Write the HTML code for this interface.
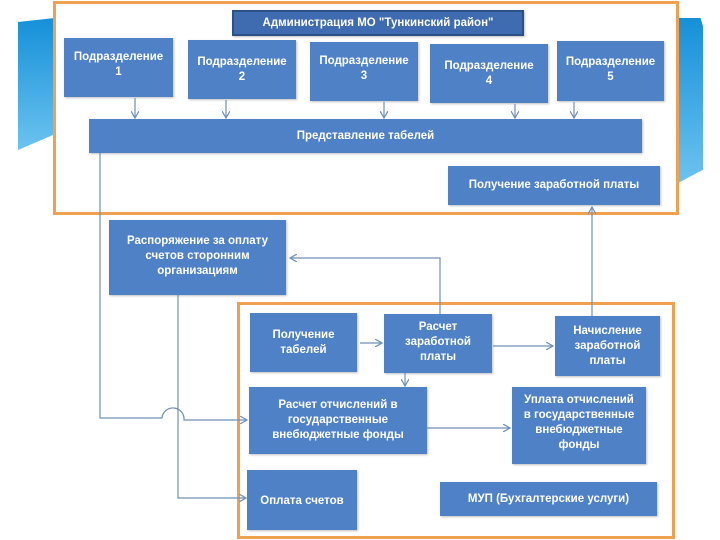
<!DOCTYPE html>
<html><head><meta charset="utf-8"><style>
body{margin:0;width:720px;height:540px;background:#fff;position:relative;overflow:hidden;font-family:"Liberation Sans","DejaVu Sans",sans-serif}
.b{position:absolute;background:#4f81c7;color:#fff;font-weight:bold;font-size:11.5px;display:flex;align-items:center;justify-content:center;text-align:center;line-height:15px;box-shadow:1px 1px 2px rgba(0,0,0,.25)}
.f{position:absolute;border:3px solid #f0a050;box-sizing:border-box}
svg{position:absolute;left:0;top:0}
</style></head><body>
<div style="position:absolute;left:18px;top:18px;width:37px;height:132px;background:linear-gradient(#1590d8,#6cc3ef);clip-path:polygon(0 3%,100% 0,100% 88%,0 100%)"></div>
<div style="position:absolute;left:678px;top:18px;width:25px;height:165px;background:linear-gradient(#1590d8,#6cc3ef);clip-path:polygon(0 0,90% 0,100% 5%,100% 92%,0 100%)"></div>
<div class="f" style="left:53px;top:1px;width:626px;height:214px;background:#fff"></div>
<div class="f" style="left:237px;top:302px;width:438px;height:237px"></div>
<div class="b" style="left:232px;top:10px;width:292px;height:26px;background:#3f6bb0;border:2px solid #2c4f86;box-sizing:border-box">Администрация МО "Тункинский район"</div>
<div class="b" style="left:64px;top:38px;width:109px;height:59px;align-items:flex-start;padding-top:12px;box-sizing:border-box">Подразделение<br>1</div>
<div class="b" style="left:188px;top:40px;width:108px;height:59px">Подразделение<br>2</div>
<div class="b" style="left:310px;top:42px;width:108px;height:59px;align-items:flex-start;padding-top:12px;box-sizing:border-box">Подразделение<br>3</div>
<div class="b" style="left:430px;top:44px;width:118px;height:59px">Подразделение<br>4</div>
<div class="b" style="left:557px;top:41px;width:107px;height:60px;align-items:flex-start;padding-top:14px;box-sizing:border-box">Подразделение<br>5</div>
<div class="b" style="left:89px;top:119px;width:553px;height:34px">Представление табелей</div>
<div class="b" style="left:448px;top:166px;width:212px;height:39px">Получение заработной платы</div>
<div class="b" style="left:109px;top:220px;width:177px;height:75px;align-items:flex-start;padding-top:14px;box-sizing:border-box">Распоряжение за оплату<br>счетов сторонним<br>организациям</div>
<div class="b" style="left:250px;top:313px;width:107px;height:59px">Получение<br>табелей</div>
<div class="b" style="left:384px;top:314px;width:108px;height:59px;align-items:flex-start;padding-top:6px;box-sizing:border-box">Расчет<br>заработной<br>платы</div>
<div class="b" style="left:555px;top:316px;width:105px;height:60px">Начисление<br>заработной<br>платы</div>
<div class="b" style="left:249px;top:387px;width:178px;height:67px">Расчет отчислений в<br>государственные<br>внебюджетные фонды</div>
<div class="b" style="left:512px;top:387px;width:134px;height:77px;align-items:flex-start;padding-top:6px;box-sizing:border-box">Уплата отчислений<br>в государственные<br>внебюджетные<br>фонды</div>
<div class="b" style="left:247px;top:470px;width:110px;height:60px;align-items:flex-start;padding-top:24px;box-sizing:border-box">Оплата счетов</div>
<div class="b" style="left:440px;top:482px;width:217px;height:34px">МУП (Бухгалтерские услуги)</div>
<svg width="720" height="540" fill="none" stroke="#6f8fb8" stroke-width="1.2">
<defs><marker id="a" markerWidth="8" markerHeight="8" refX="7" refY="4" orient="auto" markerUnits="userSpaceOnUse"><path d="M0,0L7,4L0,8" stroke="#6f8fb8" fill="none"/></marker></defs>
<g marker-end="url(#a)">
<line x1="135" y1="98" x2="135" y2="118"/>
<line x1="226" y1="100" x2="226" y2="118"/>
<line x1="384" y1="102" x2="384" y2="118"/>
<line x1="515" y1="104" x2="515" y2="118"/>
<line x1="574" y1="102" x2="574" y2="118"/>
<path d="M100,153V418H162A8,8 0 0 1 184,420H247"/>
<path d="M178,295V498H246"/>
<line x1="360" y1="343" x2="382" y2="343"/>
<line x1="493" y1="346" x2="553" y2="346"/>
<line x1="405" y1="373" x2="405" y2="386"/>
<line x1="427" y1="428" x2="510" y2="428"/>
<line x1="592" y1="316" x2="592" y2="207"/>
<path d="M440,314V258H290"/>
</g></svg>
</body></html>
